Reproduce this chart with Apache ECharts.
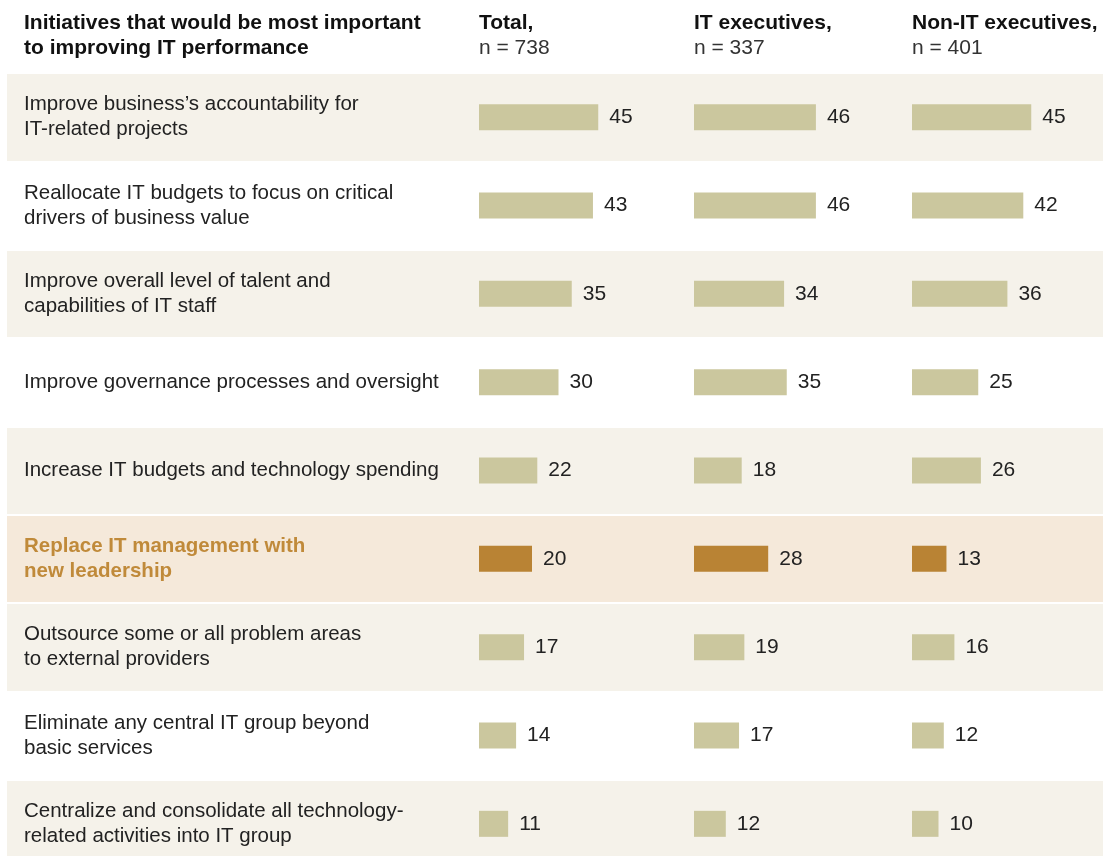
<!DOCTYPE html>
<html>
<head>
<meta charset="utf-8">
<script src="https://cdn.jsdelivr.net/npm/echarts@6/dist/echarts.min.js"></script>
<style>
html,body{margin:0;padding:0;background:#fff;}
#chart{width:1103px;height:856px;}
</style>
</head>
<body>
<div id="chart"></div>
<script>
var categories = [
  "Improve business’s accountability for\nIT-related projects",
  "Reallocate IT budgets to focus on critical\ndrivers of business value",
  "Improve overall level of talent and\ncapabilities of IT staff",
  "Improve governance processes and oversight",
  "Increase IT budgets and technology spending",
  "Replace IT management with\nnew leadership",
  "Outsource some or all problem areas\nto external providers",
  "Eliminate any central IT group beyond\nbasic services",
  "Centralize and consolidate all technology-\nrelated activities into IT group"
];
var totalValues = [45, 43, 35, 30, 22, 20, 17, 14, 11];
var itExecValues = [46, 46, 34, 35, 18, 28, 19, 17, 12];
var nonItExecValues = [45, 42, 36, 25, 26, 13, 16, 12, 10];
var highlightCategory = "Replace IT management with\nnew leadership";
var headerTitle = "Initiatives that would be most important\nto improving IT performance";
var columnTitles = ["Total,", "IT executives,", "Non-IT executives,"];
var columnSubtitles = ["n = 738", "n = 337", "n = 401"];

var FONT = "'Liberation Sans', Arial, sans-serif";
var BAR = "#cbc79e", BAR_HL = "#b98334";
var SHADE = "#f5f2ea", PEACH = "#f5e9da", WHITE = "#ffffff";
var rowColors = categories.map(function (c, i) {
  if (c === highlightCategory) return PEACH;
  return i % 2 === 0 ? SHADE : WHITE;
});

var colLefts = [479, 694, 912];
var seriesData = [totalValues, itExecValues, nonItExecValues];
var TOP = 73, HEIGHT = 795;

var grids = [{left: 7, right: 0, top: TOP, height: HEIGHT, outerBoundsMode: 'none'}];
var xAxes = [{gridIndex: 0, type: 'value', show: false, min: 0, max: 1}];
var yAxes = [{
  gridIndex: 0, type: 'category', inverse: true, data: categories,
  axisLine: {show: false}, axisTick: {show: false},
  splitArea: {show: true, areaStyle: {color: rowColors}},
  splitLine: {show: true, lineStyle: {color: '#ffffff', width: 2}},
  axisLabel: {
    inside: true, margin: 17, fontFamily: FONT, fontSize: 20.5, color: '#222',
    lineHeight: 25,
    formatter: function (v) {
      if (v === highlightCategory) {
        return v.split('\n').map(function (l) { return '{h|' + l + '}'; }).join('\n');
      }
      return v;
    },
    rich: {h: {fontFamily: FONT, fontSize: 20.5, fontWeight: 'bold', color: '#c08a3a', lineHeight: 25}}
  }
}];
var series = [];
colLefts.forEach(function (left, k) {
  var gi = k + 1;
  grids.push({left: left, width: 159, top: TOP, height: HEIGHT, outerBoundsMode: 'none'});
  xAxes.push({gridIndex: gi, type: 'value', show: false, min: 0, max: 60});
  yAxes.push({gridIndex: gi, type: 'category', inverse: true, data: categories, show: false});
  series.push({
    type: 'bar', xAxisIndex: gi, yAxisIndex: gi, barWidth: 26,
    data: seriesData[k].map(function (v, i) {
      return {value: v, itemStyle: {color: categories[i] === highlightCategory ? BAR_HL : BAR}};
    }),
    label: {show: true, position: 'right', distance: 11, fontFamily: FONT, fontSize: 21, color: '#222'},
    silent: true
  });
});

var titles = [{
  left: 24, top: 11, padding: 0, text: headerTitle,
  textStyle: {fontFamily: FONT, fontSize: 21, fontWeight: 'bold', color: '#111', lineHeight: 25}
}];
colLefts.forEach(function (left, k) {
  titles.push({
    left: left, top: 11, text: columnTitles[k], subtext: columnSubtitles[k], itemGap: 0, padding: 0,
    textStyle: {fontFamily: FONT, fontSize: 21, fontWeight: 'bold', color: '#111', lineHeight: 25},
    subtextStyle: {fontFamily: FONT, fontSize: 21, color: '#333', lineHeight: 25}
  });
});

var chart = echarts.init(document.getElementById('chart'), null, {renderer: 'canvas'});
chart.setOption({
  animation: false,
  backgroundColor: '#fff',
  title: titles,
  grid: grids, xAxis: xAxes, yAxis: yAxes, series: series
});
</script>
</body>
</html>
